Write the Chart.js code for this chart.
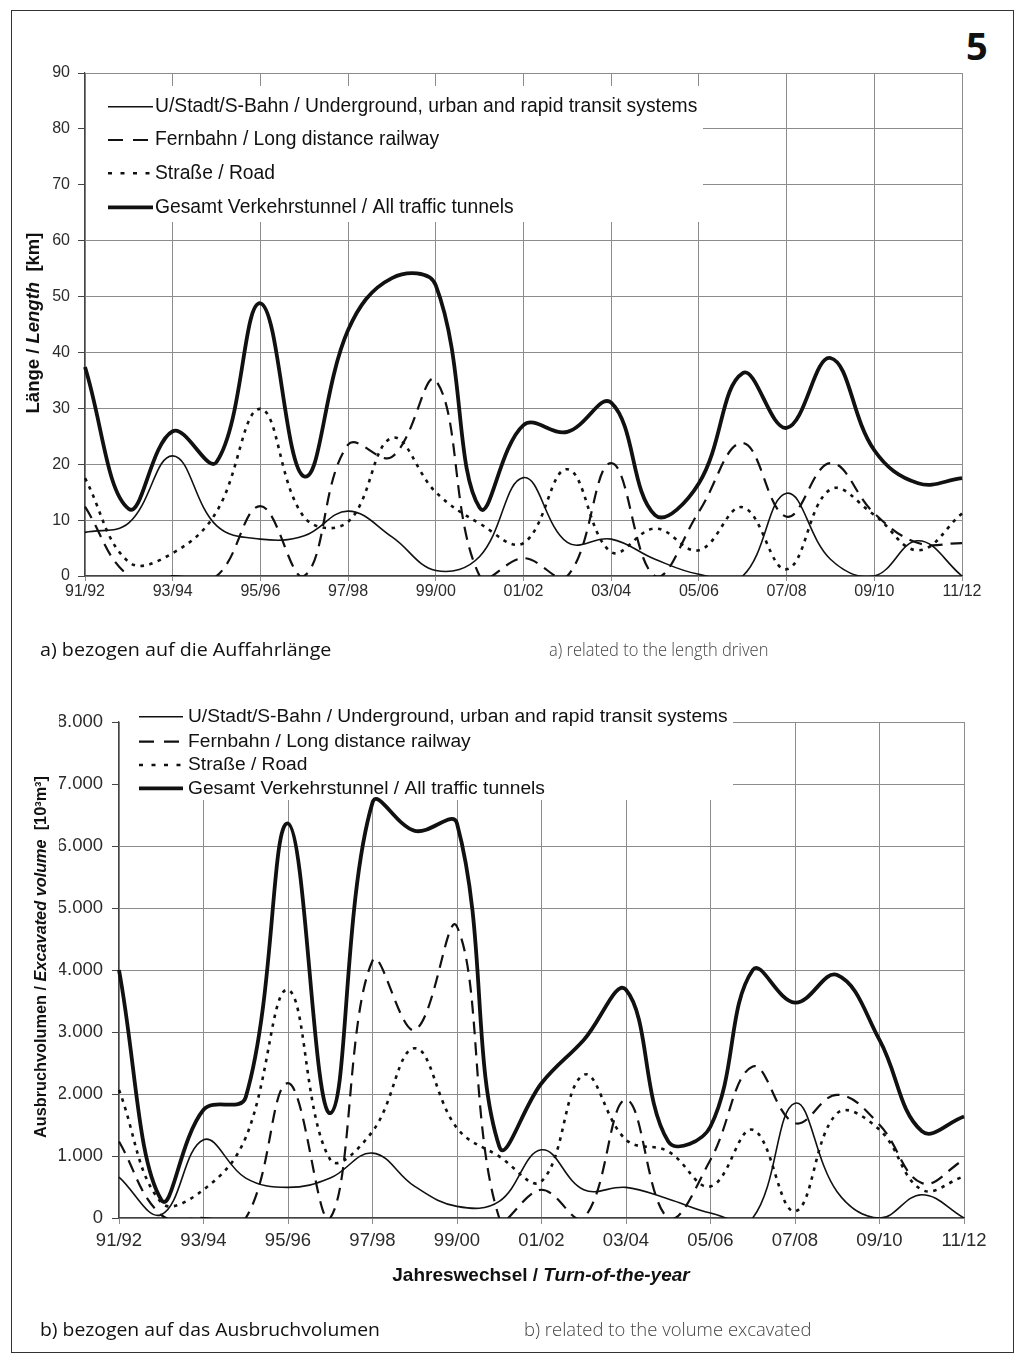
<!DOCTYPE html>
<html lang="de">
<head>
<meta charset="utf-8">
<title>Verkehrstunnelbau 1991/92 - 2011/12</title>
<script src="https://cdn.jsdelivr.net/npm/chart.js@4.4.1/dist/chart.umd.min.js"></script>
<style>
  body { margin: 0; background: #fff; }
  #page { position: relative; width: 1021px; height: 1362px; overflow: hidden; background: #fff; }
  #frame { position: absolute; left: 11px; top: 10px; width: 1003px; height: 1343px; box-sizing: border-box; border: 1.5px solid #333; }
  .box { position: absolute; left: 0; }
  .box canvas { display: block; }
  #fig { position: absolute; left: 966px; top: 26px; font: 700 38px/38px 'Open Sans', sans-serif; color: #111; }
  .cap { position: absolute; font: 400 19px/19px 'Open Sans', sans-serif; color: #111; white-space: nowrap; transform-origin: 0 0; }
  .cap.en { font-weight: 300; color: #444; }
</style>
</head>
<body>
<div id="page">
  <div id="frame"></div>
  <div id="fig">5</div>
  <div class="box" style="top:0"><canvas id="lenChart" width="1021" height="620"></canvas></div>
  <div class="box" style="top:620px"><canvas id="volChart" width="1021" height="720"></canvas></div>
  <div class="cap" style="left:40px;top:640px" data-w="291">a) bezogen auf die Auffahrlänge</div>
  <div class="cap en" style="left:549px;top:640px" data-w="219">a) related to the length driven</div>
  <div class="cap" style="left:40px;top:1320px" data-w="340">b) bezogen auf das Ausbruchvolumen</div>
  <div class="cap en" style="left:524px;top:1320px" data-w="287">b) related to the volume excavated</div>
</div>
<script>
const FONT = "'Liberation Sans', Arial, sans-serif";

const years = ['91/92', '92/93', '93/94', '94/95', '95/96', '96/97', '97/98', '98/99', '99/00', '00/01',
  '01/02', '02/03', '03/04', '04/05', '05/06', '06/07', '07/08', '08/09', '09/10', '10/11', '11/12'];

const seriesNames = [
  'U/Stadt/S-Bahn / Underground, urban and rapid transit systems',
  'Fernbahn / Long distance railway',
  'Straße / Road',
  'Gesamt Verkehrstunnel / All traffic tunnels'
];

// a) Länge [km]
const ubahnLen   = [7.8, 9.5, 21.5, 9, 6.6, 7.2, 11.6, 7, 1, 3.5, 17.6, 6, 6.6, 3, 0.3, 0, 14.8, 3, 0, 6.3, 0];
const fernLen    = [12.4, 0, 0, 0, 12.5, 0, 23.5, 21.3, 35, 0, 3.2, 0, 20.2, 0, 11.5, 23.8, 10.6, 20.2, 11.2, 5.9, 5.9];
const strasseLen = [17.5, 2.5, 4.1, 11.5, 29.9, 10.5, 9.7, 24.7, 15, 9.4, 5.9, 19.1, 4.3, 8.5, 4.6, 12.3, 1.2, 15.5, 10.9, 4.6, 11.2];
const gesamtLen  = [37.4, 12, 25.9, 20.4, 48.8, 17.8, 44, 53.3, 52, 12.2, 27, 25.8, 31, 10.9, 16.6, 36.3, 26.5, 39, 22.5, 16.6, 17.5];

// b) Ausbruchvolumen [10³m³]
const ubahnVol   = [660, 54, 1262, 644, 494, 644, 1047, 510, 188, 268, 1100, 456, 494, 306, 80, 0, 1852, 420, 0, 376, 0];
const fernVol    = [1235, 50, 0, 0, 2174, 0, 4150, 3033, 4700, 0, 456, 0, 1906, 0, 940, 2443, 1530, 1987, 1503, 564, 940];
const strasseVol = [2067, 250, 456, 1300, 3678, 940, 1396, 2738, 1450, 993, 591, 2309, 1262, 1074, 510, 1423, 107, 1691, 1423, 456, 671];
const gesamtVol  = [4000, 295, 1745, 1950, 6363, 1691, 6700, 6244, 6363, 1154, 2174, 2872, 3680, 1235, 1476, 4000, 3474, 3919, 2872, 1400, 1637];

const styles = [
  { width: 1.6, dash: [], legendDash: [] },
  { width: 2.2, dash: [13, 8], legendDash: [15, 10] },
  { width: 2.6, dash: [3.5, 5.5], legendDash: [4, 8.5] },
  { width: 3.8, dash: [], legendDash: [] }
];

const gridColor = '#8c8c8c';
const axisColor = '#444';
const tickText = '#2b2b2b';

function volLabel(v) {
  if (v === 0) return '0';
  return Math.floor(v / 1000) + '.' + String(v % 1000).padStart(3, '0');
}

// legend inside the plot on a white box, drawn under the lines
function boxLegend(cfg) {
  return {
    id: 'boxLegend',
    beforeDatasetsDraw(chart) {
      const ctx = chart.ctx;
      ctx.save();
      ctx.fillStyle = '#fff';
      ctx.fillRect(cfg.box[0], cfg.box[1], cfg.box[2], cfg.box[3]);
      ctx.font = cfg.font;
      ctx.textBaseline = 'middle';
      seriesNames.forEach((name, i) => {
        const y = cfg.rows[i];
        ctx.beginPath();
        ctx.strokeStyle = '#111';
        ctx.lineWidth = styles[i].width;
        ctx.setLineDash(styles[i].legendDash);
        ctx.moveTo(cfg.sample[0], y);
        ctx.lineTo(cfg.sample[1], y);
        ctx.stroke();
        ctx.setLineDash([]);
        ctx.fillStyle = '#111';
        ctx.fillText(name, cfg.textX, y);
      });
      ctx.restore();
    }
  };
}

function drawParts(ctx, t) {
  ctx.save();
  ctx.translate(t.x, t.y);
  if (t.rotate) ctx.rotate(-Math.PI / 2);
  ctx.textBaseline = 'middle';
  ctx.textAlign = 'left';
  ctx.fillStyle = '#111';
  const fonts = t.parts.map(p => (p[1] ? 'italic ' : '') + 'bold ' + t.size + 'px ' + FONT);
  const widths = t.parts.map((p, i) => { ctx.font = fonts[i]; return ctx.measureText(p[0]).width; });
  let x = -widths.reduce((a, b) => a + b, 0) / 2;
  t.parts.forEach((p, i) => { ctx.font = fonts[i]; ctx.fillText(p[0], x, 0); x += widths[i]; });
  ctx.restore();
}

function axisTitles(titles) {
  return {
    id: 'axisTitles',
    afterDraw(chart) { titles.forEach(t => drawParts(chart.ctx, t)); }
  };
}

function makeChart(id, series, cfg) {
  const datasets = series.map((values, i) => ({
    label: seriesNames[i],
    data: values,
    borderColor: '#111',
    borderWidth: styles[i].width,
    borderDash: styles[i].dash,
    pointRadius: 0,
    tension: 0.4,
    capBezierPoints: false,
    fill: false
  }));
  const evenOnly = c => (c.index % 2 === 0 ? gridColor : 'rgba(0,0,0,0)');
  return new Chart(document.getElementById(id), {
    type: 'line',
    data: { labels: years, datasets },
    options: {
      responsive: false,
      animation: false,
      events: [],
      layout: { padding: cfg.padding },
      plugins: { legend: { display: false }, tooltip: { enabled: false } },
      scales: {
        x: {
          grid: { color: evenOnly, tickColor: evenOnly, tickLength: cfg.xTick[0], lineWidth: 1 },
          border: { color: axisColor, width: 1.2 },
          ticks: {
            autoSkip: false, maxRotation: 0, padding: cfg.xTick[1], color: tickText,
            font: { family: FONT, size: cfg.tickSize },
            callback: (v, i) => (i % 2 === 0 ? years[i] : '')
          },
          afterFit: s => { s.height = cfg.xHeight; s.paddingLeft = 0; s.paddingRight = 0; }
        },
        y: {
          min: 0, max: cfg.yMax,
          grid: { color: gridColor, tickColor: axisColor, tickLength: 7, lineWidth: 1 },
          border: { color: axisColor, width: 1.2 },
          ticks: {
            stepSize: cfg.yStep, padding: cfg.yPad, color: tickText,
            font: { family: FONT, size: cfg.tickSize },
            callback: cfg.yLabel
          },
          afterFit: s => { s.width = 60; s.paddingTop = 0; s.paddingBottom = 0; }
        }
      }
    },
    plugins: [boxLegend(cfg.legend), axisTitles(cfg.titles)]
  });
}

makeChart('lenChart', [ubahnLen, fernLen, strasseLen, gesamtLen], {
  padding: { left: 25, top: 73, right: 59, bottom: 14 },
  xHeight: 30, xTick: [5, 1], yMax: 90, yStep: 10, yPad: 8, tickSize: 16,
  yLabel: v => String(v),
  legend: {
    box: [86, 86, 617, 136], rows: [106.7, 140, 173.3, 207.3],
    sample: [108, 153], textX: 155, font: '19.3px ' + FONT
  },
  titles: [
    { x: 34, y: 323, rotate: true, size: 18.5, parts: [['Länge / ', false], ['Length', true], ['  [km]', false]] }
  ]
});

makeChart('volChart', [ubahnVol, fernVol, strasseVol, gesamtVol], {
  padding: { left: 59, top: 102, right: 57, bottom: 82 },
  xHeight: 40, xTick: [6, 6], yMax: 8000, yStep: 1000, yPad: 9, tickSize: 18.5,
  yLabel: v => volLabel(v),
  legend: {
    box: [120, 85, 613, 95], rows: [96.7, 121.7, 145, 168.3],
    sample: [139, 183], textX: 188, font: '19.2px ' + FONT
  },
  titles: [
    { x: 42, y: 337, rotate: true, size: 16.3, parts: [['Ausbruchvolumen / ', false], ['Excavated volume', true], ['  [10³m³]', false]] },
    { x: 541, y: 656, rotate: false, size: 19, parts: [['Jahreswechsel / ', false], ['Turn-of-the-year', true]] }
  ]
});

// captions: squeeze the text to the width it takes in the print
document.querySelectorAll('.cap').forEach(el => {
  const w = Number(el.dataset.w);
  el.style.transform = 'scaleX(' + (w / el.offsetWidth).toFixed(3) + ')';
});
</script>
</body>
</html>
